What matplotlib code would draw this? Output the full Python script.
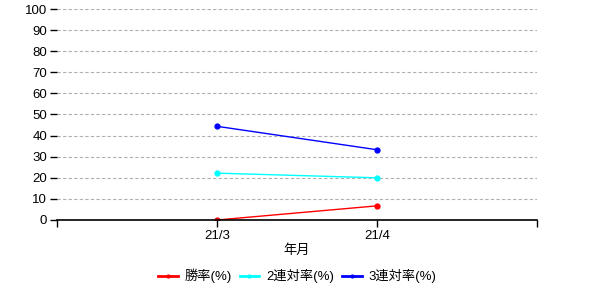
import matplotlib
matplotlib.use('Agg')
import matplotlib.pyplot as plt
from matplotlib.lines import Line2D

plt.rcParams['font.family'] = ['Liberation Sans', 'Noto Sans CJK JP']
plt.rcParams['font.size'] = 9.5

# data
months = ['21/3', '21/4']
win_rate = [0.0, 6.7]
top2_rate = [22.2, 20.0]
top3_rate = [44.4, 33.3]
series_labels = ['勝率(%)', '2連対率(%)', '3連対率(%)']
series_colors = ['#ff0000', '#00ffff', '#0000ff']

fig = plt.figure(figsize=(6, 3), dpi=100)
ax = fig.add_axes([0.095, 0.2667, 0.8, 0.7033])

xpos = [1, 2]
for vals, lbl, col in zip([win_rate, top2_rate, top3_rate], series_labels, series_colors):
    ax.plot(xpos, vals, color=col, lw=1, marker='o', markersize=3.5, label=lbl)

ax.set_xlim(0, 3)
ax.set_ylim(0, 100)
ax.set_yticks(range(0, 101, 10))
ax.set_xticks([0, 1, 2, 3])
ax.set_xticklabels(['', months[0], months[1], ''])
ax.set_xlabel('年月', labelpad=2)

ax.grid(axis='y', color='#b0b0b0', ls=(0, (3, 2)), lw=0.8)
ax.set_axisbelow(True)
for s in ['top', 'right', 'left']:
    ax.spines[s].set_visible(False)
ax.spines['bottom'].set_linewidth(1.2)
ax.tick_params(axis='y', length=5, width=1, pad=2)
ax.tick_params(axis='x', length=5, width=1, pad=2)

# legend handles: thick line with tiny marker
handles = [Line2D([], [], color=c, lw=2, marker='o', markersize=2) for c in series_colors]
fig.legend(handles, series_labels, loc='center', bbox_to_anchor=(0.495, 0.08), ncol=3,
           frameon=False, handlelength=1.5, handletextpad=0.5, columnspacing=0.6)

fig.savefig('out.png', dpi=100)
